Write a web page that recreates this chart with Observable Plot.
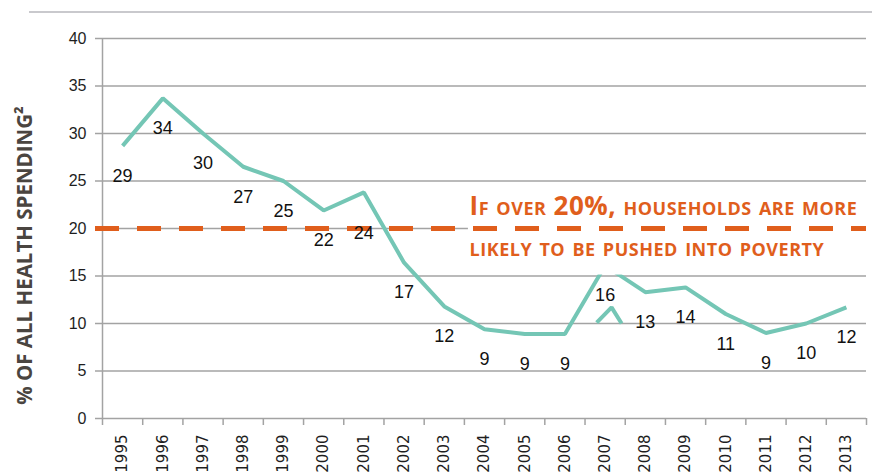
<!DOCTYPE html>
<html><head><meta charset="utf-8">
<script src="https://cdn.jsdelivr.net/npm/d3@7"></script>
<script src="https://cdn.jsdelivr.net/npm/@observablehq/plot@0.6"></script>
<style>
body{margin:0;background:#fff;width:872px;height:473px;overflow:hidden;position:relative;}
#chart{position:absolute;left:0;top:0;}
#topline{position:absolute;left:29px;top:11px;width:843px;height:2px;background:#c9c9cd;z-index:2;}
.note text{letter-spacing:0.5px;}
.xlab text{font-size:15px;font-family:"DejaVu Sans",sans-serif;}
.ylab text{font-size:16px;}
</style></head><body>
<div id="chart"></div>
<div id="topline"></div>
<script>
// ---- data ----
const years  = [1995,1996,1997,1998,1999,2000,2001,2002,2003,2004,2005,2006,2007,2008,2009,2010,2011,2012,2013];
const values = [28.7,33.7,30.0,26.5,25.0,21.9,23.8,16.4,11.8,9.4,8.9,8.9,16.1,13.3,13.8,11.0,9.0,10.0,11.7];
const labels = ["29","34","30","27","25","22","24","17","12","9","9","9","16","13","14","11","9","10","12"];
const yTicks = [0,5,10,15,20,25,30,35,40];
const threshold = 20;
const yTitle = "% OF ALL HEALTH SPENDING²";
const noteLines = ["If over 20%, households are more", "likely to be pushed into poverty"];
const noteY = [22.3, 18.0];
const noteStartX = 2003.63;
const noteBox = [{x1: 2003.6, x2: 2013.5, y1: 15.1, y2: 24.4}];
const strayX = [2006.79, 2007.16, 2007.41];
const strayY = [10.1, 11.7, 10.0];

// ---- tables ----
const data = years.map((y, i) => ({year: y, value: values[i], label: labels[i]}));
const bounds = [years[0] - 0.5, ...years.map(y => y + 0.5)];
const notes = noteLines.map((t, i) => ({text: t, x: noteStartX, y: noteY[i]}));
const stray = strayX.map((x, i) => ({x, y: strayY[i]}));

const teal = "#74c6b5";
const orange = "#e05e1c";
const gridC = "#a3a3a3";

const chart = Plot.plot({
  width: 872,
  height: 473,
  marginTop: 38,
  marginBottom: 55,
  marginLeft: 102,
  marginRight: 6,
  style: {fontFamily: "Liberation Sans, Arial, sans-serif", background: "transparent"},
  x: {domain: [bounds[0], bounds[bounds.length - 1]], label: null},
  y: {domain: [0, 40], label: null},
  marks: [
    Plot.gridY(yTicks, {stroke: gridC, strokeOpacity: 1, strokeWidth: 1.5}),
    Plot.ruleX([bounds[0]], {stroke: gridC, strokeWidth: 1.5}),
    Plot.axisY(yTicks, {tickSize: 7, tickPadding: 9, stroke: gridC, strokeWidth: 1.5, fill: "#1e1e1e", label: null, className: "ylab"}),
    Plot.axisX(bounds, {tickSize: 7, stroke: gridC, strokeWidth: 1.5, tickFormat: () => "", label: null}),
    Plot.axisX(years, {tickSize: 0, tickPadding: 16, tickRotate: -90, textAnchor: "end", fill: "#1e1e1e", tickFormat: d => String(d), label: null, className: "xlab"}),
    Plot.line(data, {x: "year", y: "value", stroke: teal, strokeWidth: 4, strokeLinejoin: "miter", strokeLinecap: "butt"}),
    Plot.line(stray, {x: "x", y: "y", stroke: teal, strokeWidth: 4, strokeLinejoin: "miter", strokeLinecap: "butt"}),
    Plot.rect(noteBox, {x1: "x1", x2: "x2", y1: "y1", y2: "y2", fill: "white"}),
    Plot.ruleY([threshold], {stroke: orange, strokeWidth: 5, strokeDasharray: "24,18", insetLeft: -7}),
    Plot.text(data.filter(d => d.year !== 2001), {x: "year", y: "value", text: "label", dy: 30, fontSize: 18, fill: "#111"}),
    Plot.text(data.filter(d => d.year === 2001), {x: "year", y: "value", text: "label", dy: 41, fontSize: 18, fill: "#111"}),
    Plot.text(notes, {x: "x", y: "y", text: "text", textAnchor: "start", fontSize: 26, fontWeight: "bold", fontVariant: "small-caps", fontFamily: "Open Sans", fill: orange, className: "note"}),
    Plot.text([yTitle], {frameAnchor: "left", textAnchor: "middle", rotate: -90, dx: -77, dy: 27, fontSize: 20.5, fontWeight: "bold", fontFamily: "Open Sans", fill: "#4a4540"})
  ]
});
document.getElementById("chart").appendChild(chart);
</script>
</body></html>
